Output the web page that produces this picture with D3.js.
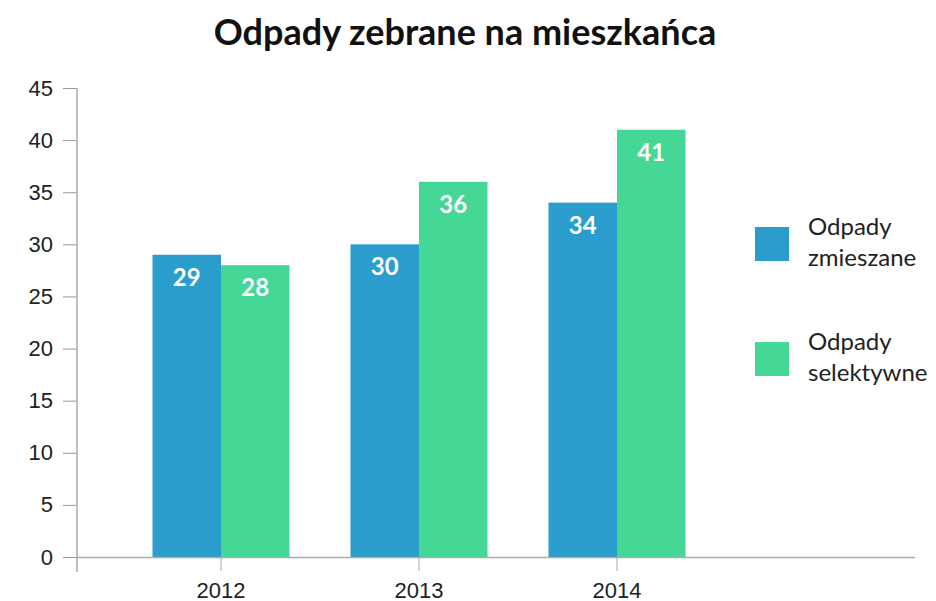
<!DOCTYPE html>
<html>
<head>
<meta charset="utf-8">
<script src="https://cdn.jsdelivr.net/npm/d3@7"></script>
<style>
  body { margin: 0; background: #fff; }
  svg { font-family: "Source Sans Pro", Lato, "Noto Sans", sans-serif; }
</style>
</head>
<body>
<svg id="chart"></svg>
<script>
// Data
const years = ["2012", "2013", "2014"];
const seriesNames = ["Odpady zmieszane", "Odpady selektywne"];
const mixed = [29, 30, 34];
const selective = [28, 36, 41];
const yTicks = [0, 5, 10, 15, 20, 25, 30, 35, 40, 45];
const colors = ["#2a9dcd", "#44d795"];

const width = 936;
const height = 601;

const svg = d3.select("#chart")
    .attr("width", width)
    .attr("height", height);

// Scales
const y = d3.scaleLinear()
    .domain([0, 45])
    .range([557, 88]);

const x0 = d3.scaleBand()
    .domain(years)
    .range([122, 716])
    .paddingInner(0.308)
    .paddingOuter(0.154);

const x1 = d3.scaleBand()
    .domain(seriesNames)
    .range([0, x0.bandwidth()]);

const rows = years.map((yr, i) => ({
    year: yr,
    values: [
        { name: seriesNames[0], value: mixed[i], color: colors[0] },
        { name: seriesNames[1], value: selective[i], color: colors[1] }
    ]
}));

// Title
svg.append("text")
    .attr("x", 465)
    .attr("y", 45)
    .attr("text-anchor", "middle")
    .attr("font-size", 36)
    .attr("font-weight", "bold")
    .attr("fill", "#111")
    .text("Odpady zebrane na mieszkańca");

// Y axis
const yAxis = svg.append("g")
    .attr("transform", "translate(77,0)")
    .call(d3.axisLeft(y).tickValues(yTicks).tickSize(14).tickPadding(10));
yAxis.select(".domain").remove();
yAxis.selectAll(".tick line").attr("stroke", "#999");
yAxis.selectAll(".tick text")
    .attr("font-size", 22)
    .attr("fill", "#222")
    .attr("font-family", null);

svg.append("line")
    .attr("x1", 77).attr("x2", 77)
    .attr("y1", 88).attr("y2", 572)
    .attr("stroke", "#aaa")
    .attr("stroke-width", 1.5);

// Bars
const groups = svg.append("g")
    .selectAll("g")
    .data(rows)
    .enter()
    .append("g")
    .attr("transform", d => `translate(${x0(d.year)},0)`);

groups.selectAll("rect")
    .data(d => d.values)
    .enter()
    .append("rect")
    .attr("x", d => x1(d.name))
    .attr("y", d => y(d.value))
    .attr("width", x1.bandwidth())
    .attr("height", d => y(0) - y(d.value))
    .attr("fill", d => d.color);

groups.selectAll("text")
    .data(d => d.values)
    .enter()
    .append("text")
    .attr("x", d => x1(d.name) + x1.bandwidth() / 2)
    .attr("y", d => y(d.value) + 31)
    .attr("text-anchor", "middle")
    .attr("font-size", 24)
    .attr("font-weight", "bold")
    .attr("fill", "#fff")
    .text(d => d.value);

// X axis
svg.append("line")
    .attr("x1", 77).attr("x2", 915)
    .attr("y1", 557.5).attr("y2", 557.5)
    .attr("stroke", "#aaa")
    .attr("stroke-width", 1.5);

const xAxis = svg.append("g")
    .attr("transform", "translate(0,557)")
    .call(d3.axisBottom(x0).tickSize(14).tickPadding(11));
xAxis.select(".domain").remove();
xAxis.selectAll(".tick line").attr("stroke", "#aaa");
xAxis.selectAll(".tick text")
    .attr("font-size", 22)
    .attr("fill", "#222")
    .attr("font-family", null);

// Legend
const legend = svg.append("g")
    .selectAll("g")
    .data(seriesNames)
    .enter()
    .append("g")
    .attr("transform", (d, i) => `translate(755,${227 + i * 115})`);

legend.append("rect")
    .attr("width", 34)
    .attr("height", 34)
    .attr("fill", (d, i) => colors[i]);

legend.append("text")
    .attr("font-size", 24)
    .attr("fill", "#222")
    .selectAll("tspan")
    .data(d => d.split(" "))
    .enter()
    .append("tspan")
    .attr("x", 53)
    .attr("y", (d, i) => 8 + i * 31)
    .text(d => d);
</script>
</body>
</html>
